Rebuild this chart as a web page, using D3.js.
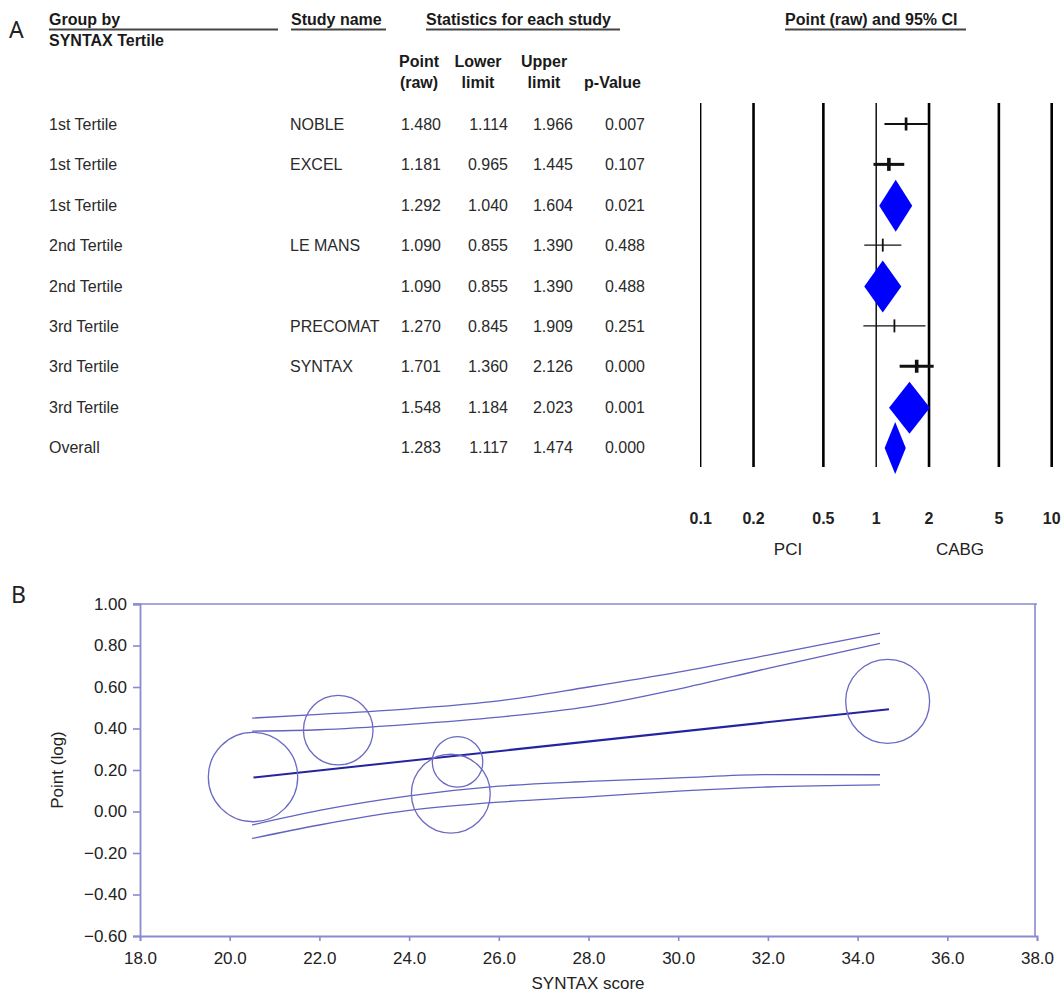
<!DOCTYPE html>
<html lang="en">
<head>
<meta charset="UTF-8">
<title>SYNTAX tertile forest plot and meta-regression</title>
<script src="https://d3js.org/d3.v7.min.js"></script>
<style>
body { margin: 0; background: #fff; }
svg { display: block; font-family: 'Liberation Sans', Arial, sans-serif; }
.hdr { font-weight: bold; fill: #1a1a1a; }
.cell { fill: #2a2a2a; }
</style>
</head>
<body>
<svg id="chart" width="1064" height="995"></svg>
<script>
// ---- panel A data (forest plot) ----
const groups   = ['1st Tertile', '1st Tertile', '1st Tertile', '2nd Tertile', '2nd Tertile',
                  '3rd Tertile', '3rd Tertile', '3rd Tertile', 'Overall'];
const studies  = ['NOBLE', 'EXCEL', '', 'LE MANS', '', 'PRECOMAT', 'SYNTAX', '', ''];
const points   = [1.480, 1.181, 1.292, 1.090, 1.090, 1.270, 1.701, 1.548, 1.283];
const lowers   = [1.114, 0.965, 1.040, 0.855, 0.855, 0.845, 1.360, 1.184, 1.117];
const uppers   = [1.966, 1.445, 1.604, 1.390, 1.390, 1.909, 2.126, 2.023, 1.474];
const pvalues  = ['0.007', '0.107', '0.021', '0.488', '0.488', '0.251', '0.000', '0.001', '0.000'];
const isSummary = [false, false, true, false, true, false, false, true, true];
const studyWeight = [2, 3, 0, 1, 0, 1, 3, 0, 0];   // relative weight of each study row
const forestTicks = [0.1, 0.2, 0.5, 1, 2, 5, 10];

// ---- panel B data (meta-regression) ----
const bubbleNames  = ['EXCEL', 'NOBLE', 'LE MANS', 'PRECOMAT', 'SYNTAX'];
const bubbleScore  = [20.52, 22.42, 24.93, 25.08, 34.67];
const bubbleLog    = [0.166, 0.392, 0.086, 0.239, 0.531];
const bubbleWeight = [27.9, 16.9, 21.7, 8.9, 24.6];
const regScore = [20.53, 34.70];
const regLog   = [0.164, 0.493];
const ciScore      = [20.5, 22.0, 24.0, 26.0, 28.0, 30.0, 32.0, 34.5];
const ciUpperOuter = [0.450, 0.468, 0.495, 0.533, 0.600, 0.672, 0.754, 0.859];
const ciUpperInner = [0.387, 0.394, 0.420, 0.455, 0.505, 0.590, 0.690, 0.810];
const ciLowerInner = [-0.065, 0.005, 0.075, 0.122, 0.145, 0.162, 0.178, 0.177];
const ciLowerOuter = [-0.130, -0.065, 0.005, 0.045, 0.070, 0.098, 0.118, 0.128];
const xTicksB = [18, 20, 22, 24, 26, 28, 30, 32, 34, 36, 38];
const yTicksB = [-0.6, -0.4, -0.2, 0, 0.2, 0.4, 0.6, 0.8, 1.0];

const svg = d3.select('#chart');

// =============== Panel A ===============
const gA = svg.append('g');
gA.append('text').attr('x', 9).attr('y', 38)
    .style('font-family', "'Noto Sans', sans-serif").style('font-size', '23px')
    .attr('fill', '#222').text('A');

const rowY = d3.scaleLinear().domain([0, groups.length - 1]).range([124, 447]);
const xF = d3.scaleLog().domain([0.1, 10]).range([700.7, 1051.7]);

// header with underlines
const headers = [
    { t: 'Group by', x: 49, x2: 278 },
    { t: 'Study name', x: 291, x2: 386 },
    { t: 'Statistics for each study', x: 426, x2: 620 },
    { t: 'Point (raw) and 95% CI', x: 785, x2: 966 }
];
headers.forEach(h => {
    gA.append('text').attr('class', 'hdr').attr('x', h.x).attr('y', 25)
        .style('font-size', '16px').text(h.t);
    gA.append('line').attr('x1', h.x).attr('x2', h.x2).attr('y1', 29.5).attr('y2', 29.5)
        .attr('stroke', '#444').attr('stroke-width', 1.8);
});
gA.append('text').attr('class', 'hdr').attr('x', 49).attr('y', 46)
    .style('font-size', '16px').text('SYNTAX Tertile');

const colHdr = [
    { a: 'Point', b: '(raw)', x: 419 },
    { a: 'Lower', b: 'limit', x: 478 },
    { a: 'Upper', b: 'limit', x: 544 },
    { a: '', b: 'p-Value', x: 612.5 }
];
colHdr.forEach(c => {
    gA.append('text').attr('class', 'hdr').attr('x', c.x).attr('y', 67)
        .attr('text-anchor', 'middle').style('font-size', '16px').text(c.a);
    gA.append('text').attr('class', 'hdr').attr('x', c.x).attr('y', 88)
        .attr('text-anchor', 'middle').style('font-size', '16px').text(c.b);
});

// table rows
const fmt = d3.format('.3f');
const cols = [
    { x: 49, anchor: 'start', v: i => groups[i] },
    { x: 290, anchor: 'start', v: i => studies[i] },
    { x: 441, anchor: 'end', v: i => fmt(points[i]) },
    { x: 508, anchor: 'end', v: i => fmt(lowers[i]) },
    { x: 573, anchor: 'end', v: i => fmt(uppers[i]) },
    { x: 645, anchor: 'end', v: i => pvalues[i] }
];
const rows = gA.append('g').selectAll('g').data(d3.range(groups.length)).join('g')
    .attr('transform', i => `translate(0,${rowY(i) + 6})`);
cols.forEach(c => {
    rows.append('text').attr('class', 'cell').attr('x', c.x)
        .attr('text-anchor', c.anchor).style('font-size', '16px').text(c.v);
});

// vertical reference lines
gA.append('g').selectAll('line').data(forestTicks).join('line')
    .attr('x1', d => xF(d)).attr('x2', d => xF(d))
    .attr('y1', 103).attr('y2', 467)
    .attr('stroke', '#000')
    .attr('stroke-width', d => (d === 0.1 || d === 1) ? 1.4 : 2.6);

// tick labels under the forest plot
gA.append('g').selectAll('text').data(forestTicks).join('text')
    .attr('x', d => xF(d)).attr('y', 524).attr('text-anchor', 'middle')
    .style('font-size', '16px').style('font-weight', 'bold').attr('fill', '#222')
    .text(d => d);
gA.append('text').attr('x', 788).attr('y', 555).attr('text-anchor', 'middle')
    .style('font-size', '17px').attr('fill', '#222').text('PCI');
gA.append('text').attr('x', 960).attr('y', 555).attr('text-anchor', 'middle')
    .style('font-size', '17px').attr('fill', '#222').text('CABG');

// study markers
const sw = d3.scaleLinear().domain([1, 3]).range([1.2, 3]);
const studyIdx = d3.range(groups.length).filter(i => !isSummary[i]);
const marks = gA.append('g').selectAll('g').data(studyIdx).join('g');
marks.append('line')
    .attr('x1', i => xF(lowers[i])).attr('x2', i => xF(uppers[i]))
    .attr('y1', i => rowY(i)).attr('y2', i => rowY(i))
    .attr('stroke', '#111').attr('stroke-width', i => sw(studyWeight[i]));
marks.append('line')
    .attr('x1', i => xF(points[i])).attr('x2', i => xF(points[i]))
    .attr('y1', i => rowY(i) - 6.5).attr('y2', i => rowY(i) + 6.5)
    .attr('stroke', '#111').attr('stroke-width', i => sw(studyWeight[i]) + 0.6);

// summary diamonds
const sumIdx = d3.range(groups.length).filter(i => isSummary[i]);
gA.append('g').selectAll('path').data(sumIdx).join('path')
    .attr('d', i => {
        const y = rowY(i) + 1;
        return `M${xF(lowers[i])},${y}L${xF(points[i])},${y - 26}L${xF(uppers[i])},${y}L${xF(points[i])},${y + 26}Z`;
    })
    .attr('fill', '#0000ff');

// =============== Panel B ===============
const gB = svg.append('g');
gB.append('text').attr('x', 11).attr('y', 603)
    .style('font-family', "'Noto Sans', sans-serif").style('font-size', '23px')
    .attr('fill', '#222').text('B');

const axisCol = '#8a8ad0';
const xB = d3.scaleLinear().domain([18, 38]).range([140, 1037]);
const yB = d3.scaleLinear().domain([-0.6, 1.0]).range([936, 604]);

// frame (top and right)
gB.append('line').attr('x1', xB(18) - 7).attr('x2', xB(38)).attr('y1', yB(1)).attr('y2', yB(1))
    .attr('stroke', axisCol).attr('stroke-width', 1.6);
gB.append('line').attr('x1', xB(38) - 2).attr('x2', xB(38) - 2).attr('y1', yB(1)).attr('y2', yB(-0.6))
    .attr('stroke', axisCol).attr('stroke-width', 1.6);

const yAxis = gB.append('g').attr('transform', `translate(${xB(18)},0)`)
    .call(d3.axisLeft(yB).tickValues(yTicksB).tickSize(7).tickPadding(6)
        .tickFormat(d => d3.format('.2f')(d).replace('-', '\u2212')));
const xAxis = gB.append('g').attr('transform', `translate(0,${yB(-0.6)})`)
    .call(d3.axisBottom(xB).tickValues(xTicksB).tickSize(5).tickPadding(11)
        .tickFormat(d3.format('.1f')));
[yAxis, xAxis].forEach(a => {
    a.select('.domain').attr('stroke', axisCol).attr('stroke-width', 1.8);
    a.selectAll('.tick line').attr('stroke', axisCol).attr('stroke-width', 1.6);
    a.selectAll('.tick text').attr('fill', '#222')
        .style('font-size', '17px').style('font-family', "'Liberation Sans', Arial, sans-serif");
});

gB.append('text').attr('transform', `translate(63,${yB(0.2)}) rotate(-90)`)
    .attr('text-anchor', 'middle').style('font-size', '17px').attr('fill', '#222')
    .text('Point (log)');
gB.append('text').attr('x', 588).attr('y', 989).attr('text-anchor', 'middle')
    .style('font-size', '17px').attr('fill', '#222').text('SYNTAX score');

// confidence / prediction curves
const curve = d3.line().x(d => xB(d[0])).y(d => yB(d[1])).curve(d3.curveMonotoneX);
[ciUpperOuter, ciUpperInner, ciLowerInner, ciLowerOuter].forEach(arr => {
    gB.append('path').datum(ciScore.map((s, i) => [s, arr[i]]))
        .attr('d', curve).attr('fill', 'none')
        .attr('stroke', '#6262c0').attr('stroke-width', 1.3);
});

// regression line
gB.append('path').datum(regScore.map((s, i) => [s, regLog[i]]))
    .attr('d', d3.line().x(d => xB(d[0])).y(d => yB(d[1])))
    .attr('fill', 'none').attr('stroke', '#2424a0').attr('stroke-width', 2);

// study bubbles
const rB = d3.scaleSqrt().domain([0, d3.max(bubbleWeight)]).range([0, 44.7]);
gB.append('g').selectAll('circle').data(bubbleNames).join('circle')
    .attr('cx', (d, i) => xB(bubbleScore[i]))
    .attr('cy', (d, i) => yB(bubbleLog[i]))
    .attr('r', (d, i) => rB(bubbleWeight[i]))
    .attr('fill', 'none').attr('stroke', '#6a6ac2').attr('stroke-width', 1.3);
</script>
</body>
</html>
